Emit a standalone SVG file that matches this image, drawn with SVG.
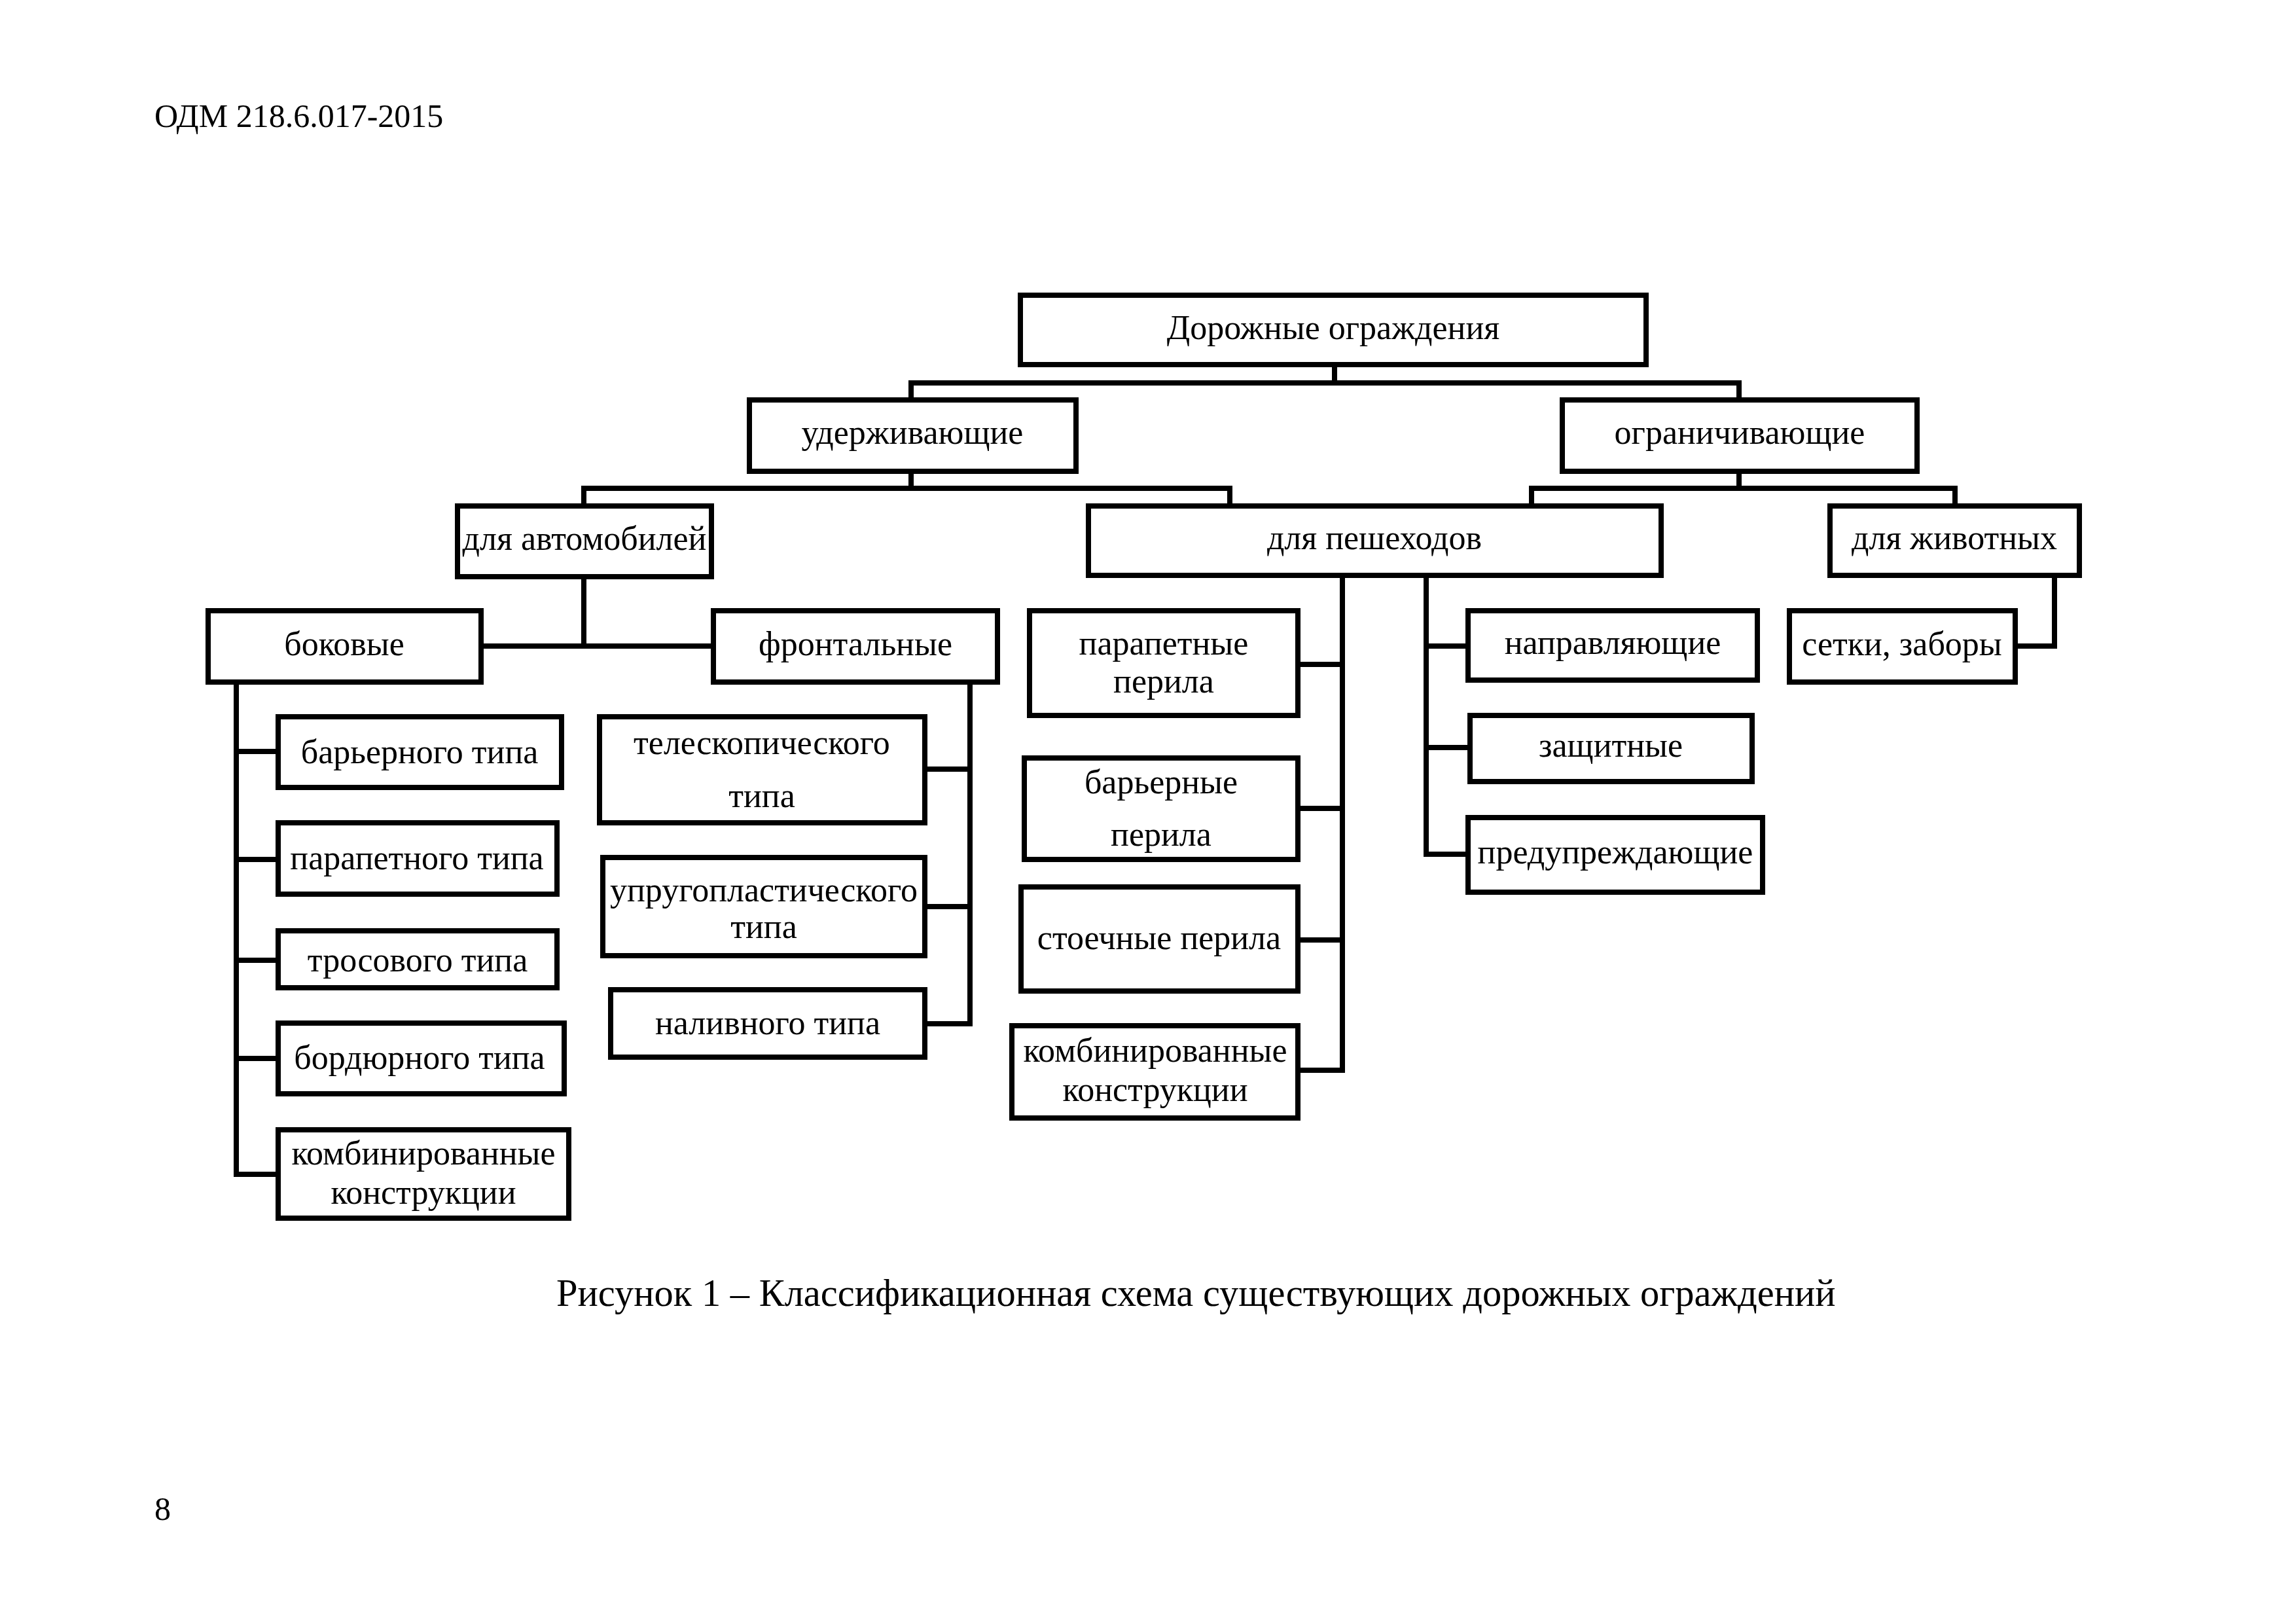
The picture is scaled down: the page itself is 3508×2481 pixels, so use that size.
<svg xmlns="http://www.w3.org/2000/svg" width="3508" height="2481" viewBox="0 0 3508 2481">
<style>
  .box { fill: #ffffff; stroke: #000000; stroke-width: 8; }
  .lbl { font-family: "Liberation Serif", "Times New Roman", serif; font-size: 52px; fill: #000000; text-anchor: middle; }
  .page { font-family: "Liberation Serif", "Times New Roman", serif; fill: #000000; }
  .conn path { fill: none; stroke: #000000; stroke-width: 8; stroke-linecap: square; stroke-linejoin: miter; }
</style>
<rect x="0" y="0" width="3508" height="2481" fill="#ffffff"/>
<text class="page" x="236" y="194" font-size="50">ОДМ 218.6.017-2015</text>

<g id="connectors" class="conn">
  <path d="M2039,561 V585 M1392,585 H2657 M1392,585 V607 M2657,585 V607"/>
  <path d="M1392,724 V746 M892,746 H1879 M892,746 V769 M1879,746 V769"/>
  <path d="M2657,724 V746 M2340,746 H2987 M2340,746 V769 M2987,746 V769"/>
  <path d="M892,885 V987 M739,987 H1086"/>
  <path d="M361,1046 V1794 M361,1148 H421 M361,1313 H421 M361,1467 H421 M361,1617 H421 M361,1794 H421"/>
  <path d="M1482,1046 V1564 M1417,1175 H1482 M1417,1385 H1482 M1417,1564 H1482"/>
  <path d="M2051,883 V1635 M1987,1015 H2051 M1987,1235 H2051 M1987,1436 H2051 M1987,1635 H2051"/>
  <path d="M2179,883 V1305 M2179,987 H2239 M2179,1142 H2242 M2179,1305 H2239"/>
  <path d="M3139,883 V987 H3083"/>
</g>

<g id="n-dorozhnye">
  <rect class="box" x="1559" y="451" width="956" height="106"/>
  <text class="lbl" x="2037" y="518">Дорожные ограждения</text>
</g>
<g id="n-uderzh">
  <rect class="box" x="1145" y="611" width="499" height="109"/>
  <text class="lbl" x="1394" y="678">удерживающие</text>
</g>
<g id="n-ogran">
  <rect class="box" x="2387" y="611" width="542" height="109"/>
  <text class="lbl" x="2658" y="678">ограничивающие</text>
</g>
<g id="n-avto">
  <rect class="box" x="699" y="773" width="388" height="108"/>
  <text class="lbl" x="893" y="840">для автомобилей</text>
</g>
<g id="n-pesh">
  <rect class="box" x="1663" y="773" width="875" height="106"/>
  <text class="lbl" x="2100" y="839">для пешеходов</text>
</g>
<g id="n-zhiv">
  <rect class="box" x="2796" y="773" width="381" height="106"/>
  <text class="lbl" x="2986" y="839">для животных</text>
</g>
<g id="n-bokovye">
  <rect class="box" x="318" y="933" width="417" height="109"/>
  <text class="lbl" x="526" y="1001">боковые</text>
</g>
<g id="n-frontal">
  <rect class="box" x="1090" y="933" width="434" height="109"/>
  <text class="lbl" x="1307" y="1001">фронтальные</text>
</g>
<g id="n-barier-tipa">
  <rect class="box" x="425" y="1095" width="433" height="108"/>
  <text class="lbl" x="641" y="1166">барьерного типа</text>
</g>
<g id="n-parapet-tipa">
  <rect class="box" x="425" y="1257" width="426" height="109"/>
  <text class="lbl" x="637" y="1328">парапетного типа</text>
</g>
<g id="n-tros">
  <rect class="box" x="425" y="1422" width="426" height="87"/>
  <text class="lbl" x="638" y="1484">тросового типа</text>
</g>
<g id="n-bord">
  <rect class="box" x="425" y="1563" width="437" height="108"/>
  <text class="lbl" x="641" y="1633">бордюрного типа</text>
</g>
<g id="n-komb1">
  <rect class="box" x="425" y="1726" width="444" height="135"/>
  <text class="lbl" x="647" y="1779">комбинированные</text>
  <text class="lbl" x="647" y="1839">конструкции</text>
</g>
<g id="n-teleskop">
  <rect class="box" x="916" y="1095" width="497" height="162"/>
  <text class="lbl" x="1164" y="1152">телескопического</text>
  <text class="lbl" x="1164" y="1233">типа</text>
</g>
<g id="n-uprug">
  <rect class="box" x="921" y="1310" width="492" height="150"/>
  <text class="lbl" x="1167" y="1377">упругопластического</text>
  <text class="lbl" x="1167" y="1433">типа</text>
</g>
<g id="n-naliv">
  <rect class="box" x="933" y="1512" width="480" height="103"/>
  <text class="lbl" x="1173" y="1580">наливного типа</text>
</g>
<g id="n-parapet-per">
  <rect class="box" x="1573" y="933" width="410" height="160"/>
  <text class="lbl" x="1778" y="1000">парапетные</text>
  <text class="lbl" x="1778" y="1058">перила</text>
</g>
<g id="n-barier-per">
  <rect class="box" x="1565" y="1158" width="418" height="155"/>
  <text class="lbl" x="1774" y="1212">барьерные</text>
  <text class="lbl" x="1774" y="1292">перила</text>
</g>
<g id="n-stoech">
  <rect class="box" x="1560" y="1355" width="423" height="159"/>
  <text class="lbl" x="1771" y="1450">стоечные перила</text>
</g>
<g id="n-komb2">
  <rect class="box" x="1546" y="1567" width="437" height="141"/>
  <text class="lbl" x="1765" y="1622">комбинированные</text>
  <text class="lbl" x="1765" y="1682">конструкции</text>
</g>
<g id="n-naprav">
  <rect class="box" x="2243" y="933" width="442" height="106"/>
  <text class="lbl" x="2464" y="999">направляющие</text>
</g>
<g id="n-zashch">
  <rect class="box" x="2246" y="1093" width="431" height="101"/>
  <text class="lbl" x="2461" y="1156">защитные</text>
</g>
<g id="n-predupr">
  <rect class="box" x="2243" y="1249" width="450" height="114"/>
  <text class="lbl" x="2468" y="1319">предупреждающие</text>
</g>
<g id="n-setki">
  <rect class="box" x="2734" y="933" width="345" height="109"/>
  <text class="lbl" x="2906" y="1001">сетки, заборы</text>
</g>

<text class="page" x="850" y="1995" font-size="58.5">Рисунок 1 – Классификационная схема существующих дорожных ограждений</text>
<text class="page" x="236" y="2322" font-size="50">8</text>
</svg>
